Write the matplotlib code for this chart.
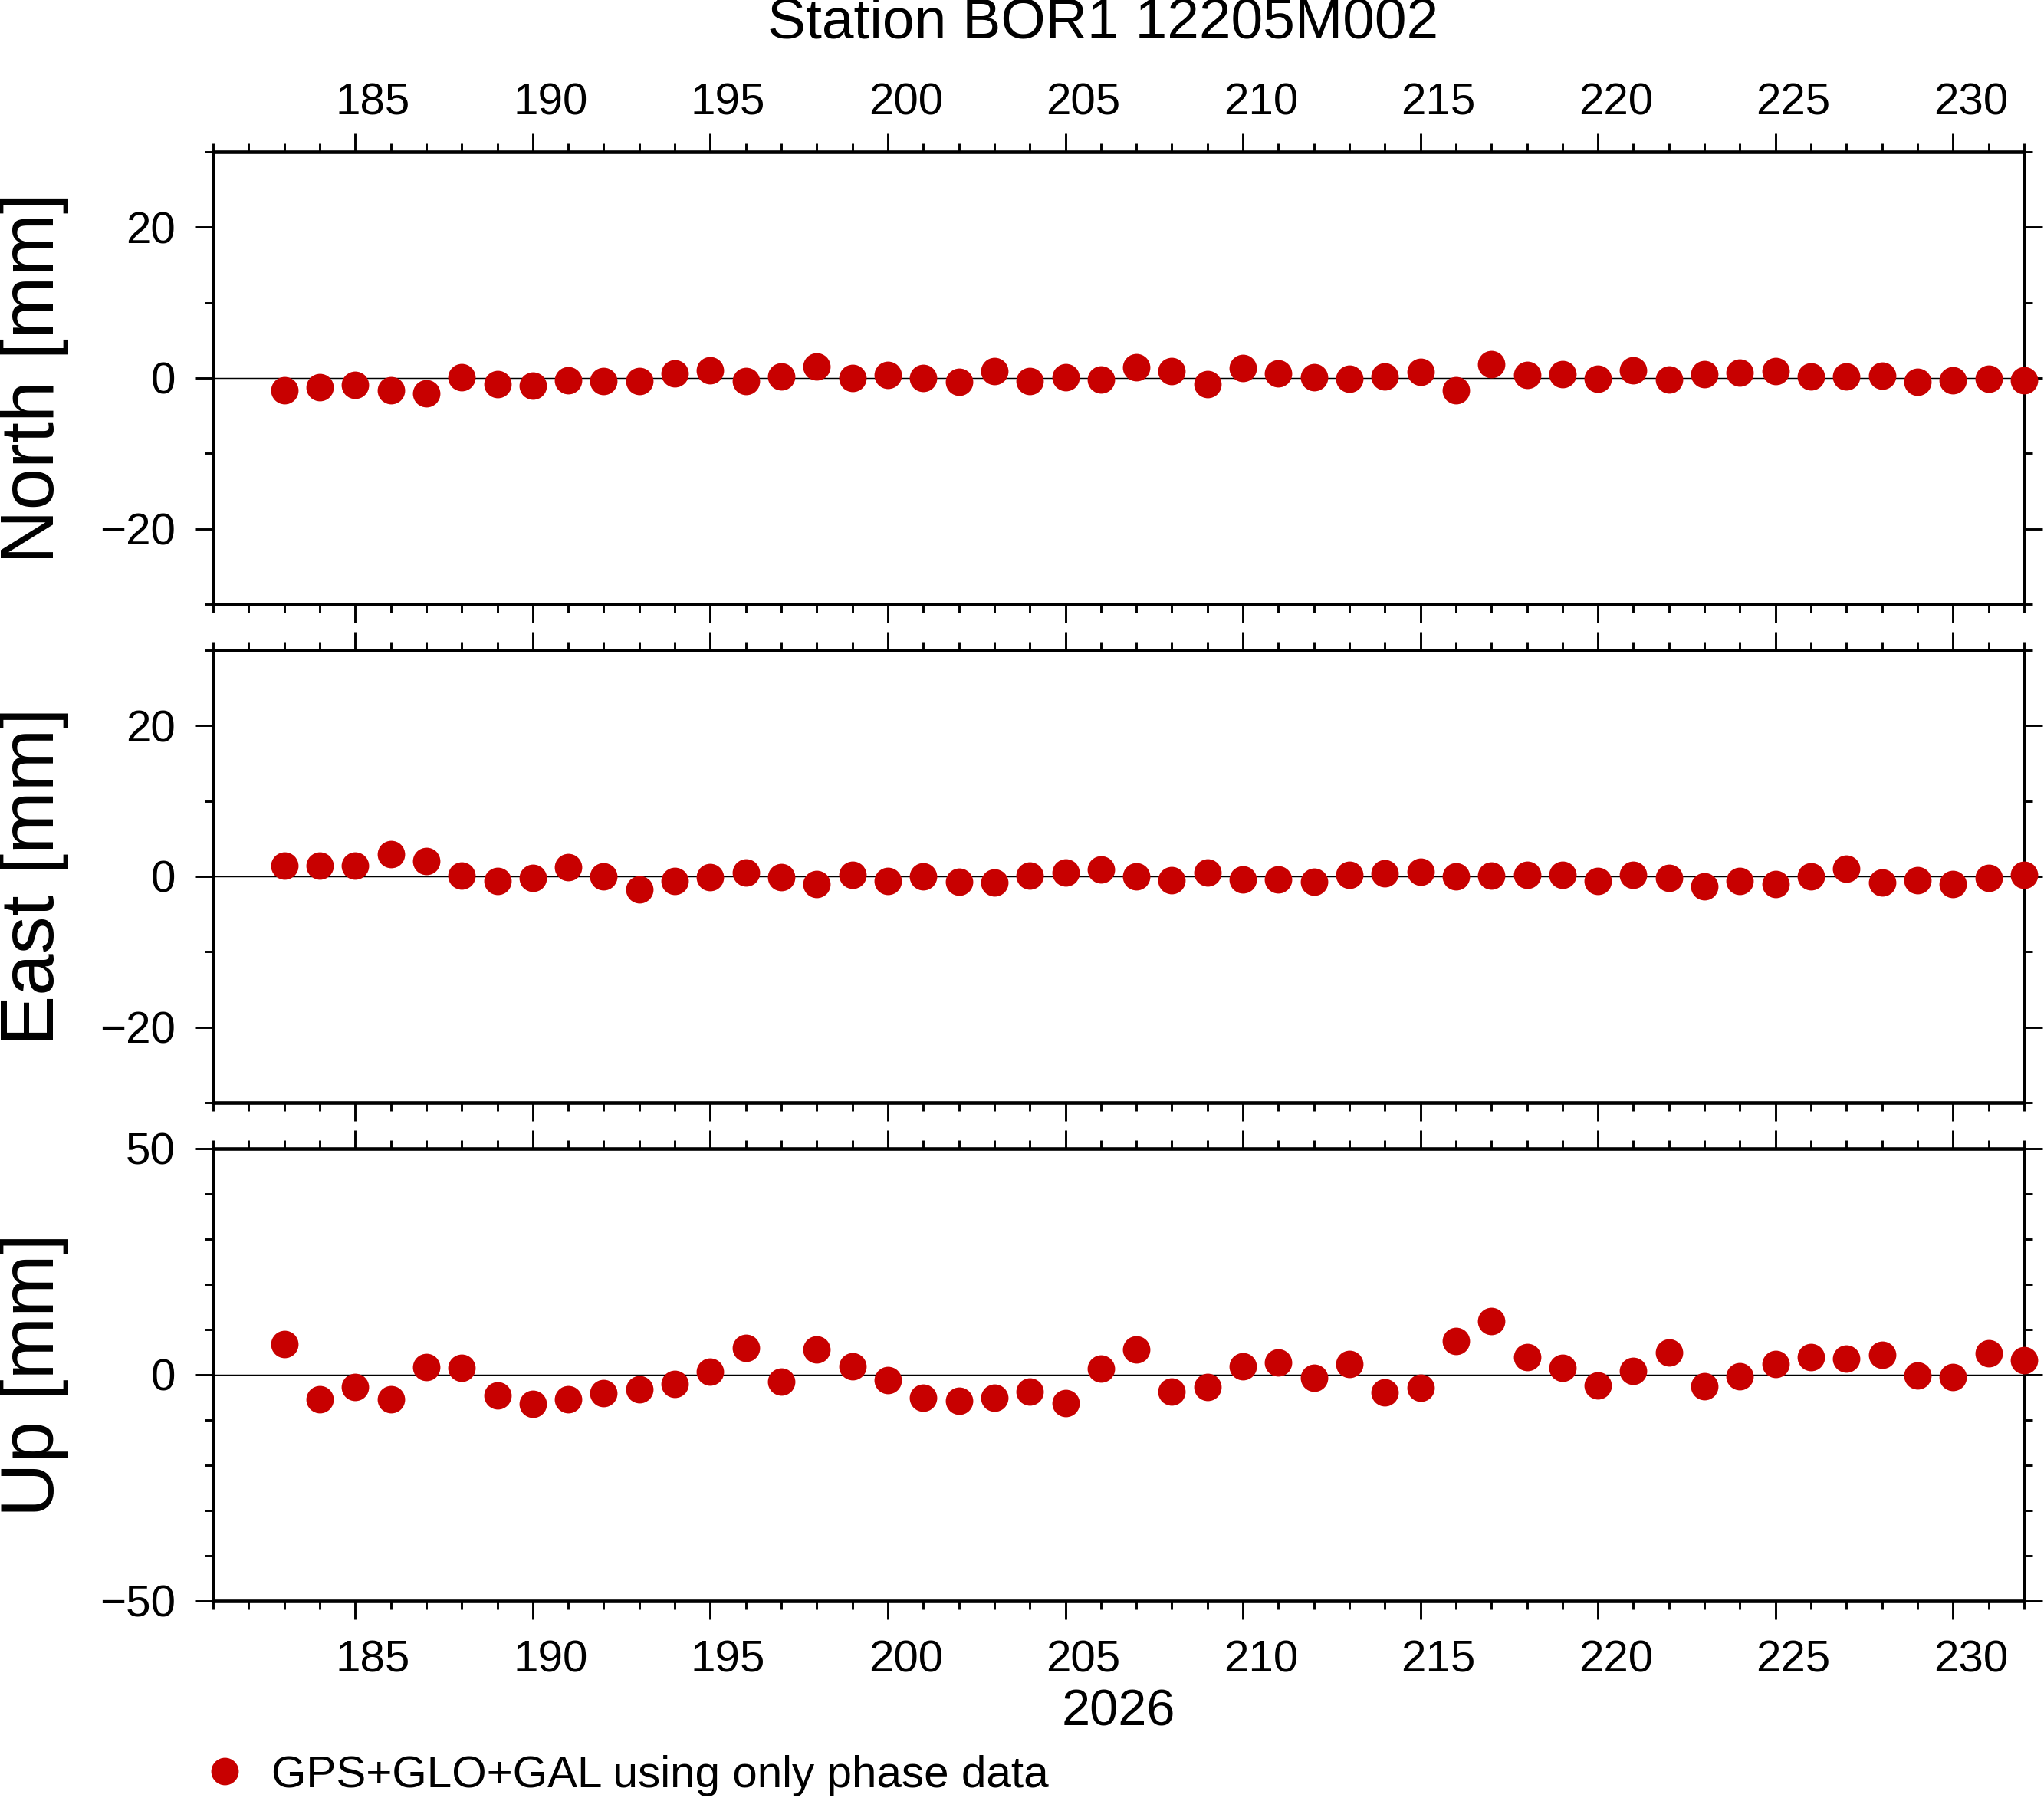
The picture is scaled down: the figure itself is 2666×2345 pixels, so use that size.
import numpy as np
import matplotlib
matplotlib.use("Agg")
import matplotlib.pyplot as plt
from matplotlib.ticker import MultipleLocator
from matplotlib.transforms import ScaledTranslation

plt.rcParams['font.family'] = ['Liberation Sans', 'DejaVu Sans']

# day of year 2026
days = list(range(183, 233))

north = [-1.6, -1.2, -0.9, -1.6, -2.0, 0.1, -0.8, -1.0, -0.3, -0.4,
         -0.4, 0.6, 1.0, -0.4, 0.2, 1.5, 0.0, 0.4, 0.0, -0.5,
         0.9, -0.4, 0.1, -0.2, 1.4, 0.9, -0.8, 1.3, 0.6, 0.1,
         -0.1, 0.2, 0.8, -1.6, 1.8, 0.4, 0.5, -0.1, 1.0, -0.2,
         0.5, 0.7, 0.9, 0.2, 0.2, 0.3, -0.5, -0.3, -0.1, -0.3]

east = [1.4, 1.4, 1.4, 2.9, 2.0, 0.1, -0.6, -0.2, 1.2, 0.0,
        -1.7, -0.6, -0.1, 0.5, -0.1, -1.0, 0.2, -0.6, 0.0, -0.7,
        -0.8, 0.1, 0.5, 0.9, 0.0, -0.5, 0.5, -0.4, -0.4, -0.7,
        0.2, 0.4, 0.6, 0.0, 0.1, 0.2, 0.2, -0.6, 0.2, -0.2,
        -1.3, -0.6, -1.0, 0.0, 1.0, -0.8, -0.5, -1.0, -0.2, 0.2]

up = [6.8, -5.4, -2.7, -5.4, 1.7, 1.5, -4.6, -6.4, -5.4, -4.1,
      -3.2, -2.0, 0.7, 5.9, -1.5, 5.6, 1.9, -1.2, -5.1, -5.8,
      -5.1, -3.7, -6.3, 1.4, 5.6, -3.7, -2.7, 1.9, 2.7, -0.7,
      2.4, -3.9, -2.9, 7.5, 11.9, 3.9, 1.5, -2.4, 0.9, 4.9,
      -2.5, -0.3, 2.4, 3.9, 3.6, 4.4, -0.2, -0.5, 4.8, 3.2]

title = "Station BOR1 12205M002"
year_label = "2026"
legend_label = "GPS+GLO+GAL using only phase data"
red = '#c80000'

fig = plt.figure(figsize=(2666 / 300, 2345 / 300), dpi=300)

panels = [
    ("North [mm]", north, 30, 20, 0.6640),
    ("East [mm]", east, 30, 20, 0.3868),
    ("Up [mm]", up, 50, 50, 0.1096),
]

# day labels sit in the middle of the day interval (half a day to the right)
half_day = ScaledTranslation(23.25 / 300, 0, fig.dpi_scale_trans)

axes = []
for i, (label, vals, lim, major, bottom) in enumerate(panels):
    ax = fig.add_axes([0.1043, bottom, 0.8859, 0.2516])
    ax.axhline(0, color='black', lw=0.35, zorder=1)
    h, = ax.plot(days, vals, 'o', color=red, ms=8.6, mew=0, clip_on=False, zorder=3)
    ax.set_xlim(181, 232)
    ax.set_ylim(-lim, lim)
    ax.xaxis.set_major_locator(MultipleLocator(5))
    ax.xaxis.set_minor_locator(MultipleLocator(1))
    ax.yaxis.set_major_locator(MultipleLocator(major))
    ax.yaxis.set_minor_locator(MultipleLocator(10))
    for s in ax.spines.values():
        s.set_linewidth(1.1)
    ax.tick_params(which='both', direction='out', top=True, bottom=True,
                   left=True, right=True, width=0.7, labelsize=14)
    ax.tick_params(which='major', length=5.8)
    ax.tick_params(which='minor', length=2.6)
    ax.tick_params(axis='y', pad=6)
    ax.tick_params(axis='x', pad=3 if i == 0 else 6.3)
    ax.tick_params(axis='x', labeltop=(i == 0), labelbottom=(i == 2))
    for t in ax.xaxis.get_major_ticks():
        t.label1.set_transform(t.label1.get_transform() + half_day)
        t.label2.set_transform(t.label2.get_transform() + half_day)
    fig.text(0.0166, bottom + 0.2516 / 2, label, rotation=90, ha='center',
             va='center', fontsize=23.5)
    axes.append(ax)

axes[2].set_xlabel(year_label, fontsize=16, labelpad=2.5)

fig.text(0.5395, 0.987, title, ha='center', va='center', fontsize=18)

fig.legend(handles=[h], labels=[legend_label], loc='center left',
           bbox_to_anchor=(155 / 1568, 0.0125), frameon=False, fontsize=14,
           handlelength=1.0, handletextpad=0.55, borderpad=0, borderaxespad=0)

fig.savefig("out.png", dpi=300)
